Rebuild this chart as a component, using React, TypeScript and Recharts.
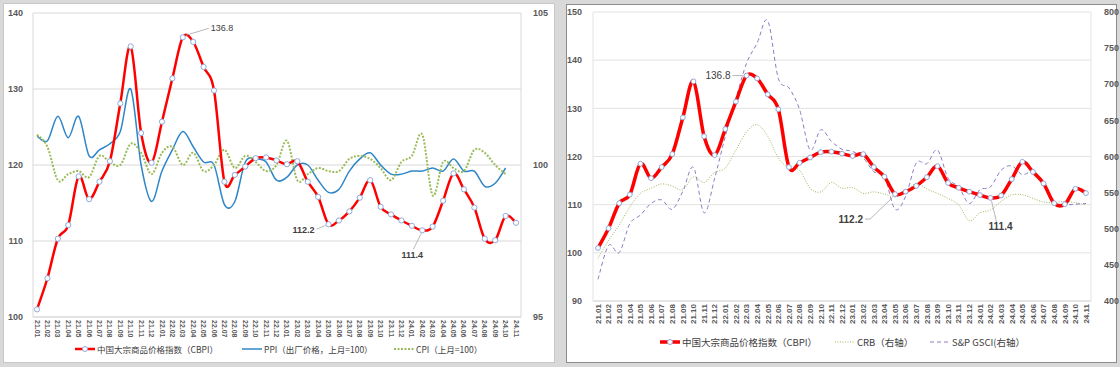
import React from 'react';
import { LineChart, Line, XAxis, YAxis, CartesianGrid, LabelList } from 'recharts';

const months = [
  '21.01','21.02','21.03','21.04','21.05','21.06','21.07','21.08','21.09','21.10','21.11','21.12',
  '22.01','22.02','22.03','22.04','22.05','22.06','22.07','22.08','22.09','22.10','22.11','22.12',
  '23.01','23.02','23.03','23.04','23.05','23.06','23.07','23.08','23.09','23.10','23.11','23.12',
  '24.01','24.02','24.03','24.04','24.05','24.06','24.07','24.08','24.09','24.10','24.11',
];

const cbpi = [
  101.0, 105.1, 110.3, 112.1, 118.5, 115.5, 117.8, 120.5, 128.1, 135.6, 124.2, 120.3,
  125.7, 131.4, 136.8, 136.2, 132.9, 129.8, 117.8, 118.7, 119.8, 120.9, 121.0, 120.6,
  120.1, 120.5, 117.8, 115.8, 112.2, 112.7, 113.9, 115.7, 118.0, 114.5, 113.5, 112.7,
  112.0, 111.4, 111.9, 115.3, 118.9, 116.8, 114.4, 110.3, 110.1, 113.3, 112.4,
];

const ppi = [
  100.95, 100.8, 101.6, 100.9, 101.6, 100.3, 100.5, 100.7, 101.1, 102.5, 100.0, 98.8,
  99.8, 100.5, 101.1, 100.6, 100.1, 100.0, 98.7, 98.8, 100.1, 100.2, 100.1, 99.5,
  99.6, 100.0, 100.0, 99.5, 99.1, 99.2, 99.8, 100.2, 100.4, 100.0, 99.7, 99.7,
  99.8, 99.8, 99.9, 99.8, 100.2, 99.8, 99.8, 99.3, 99.4, 99.9, null,
];

const cpi = [
  101.0, 100.6, 99.5, 99.7, 99.8, 99.6, 100.3, 100.1, 100.0, 100.7, 100.4, 99.7,
  100.4, 100.6, 100.0, 100.4, 99.8, 100.0, 100.5, 99.9, 100.3, 100.1, 99.8, 100.0,
  100.8, 99.5, 99.7, 99.9, 99.8, 99.8, 100.2, 100.3, 100.2, 99.9, 99.5, 100.1,
  100.3, 101.0, 99.0, 100.1, 99.9, 99.8, 100.5, 100.4, 100.0, 99.7, null,
];

const crb = [
  459, 484, 505, 530, 549, 556, 562, 559, 554, 572, 564, 578,
  584, 609, 634, 644, 628, 598, 584, 581, 556, 551, 564, 556,
  557, 549, 551, 548, 544, 551, 563, 555, 549, 542, 533, 511,
  522, 526, 538, 547, 547, 542, 537, 536, 538, 536, 533,
];

const gsci = [
  430, 477, 467, 507, 519, 535, 540, 527, 552, 585, 522, 570,
  628, 680, 729, 757, 788, 708, 695, 665, 609, 637, 621, 610,
  607, 598, 579, 572, 527, 545, 591, 590, 609, 570, 558, 535,
  554, 558, 581, 587, 575, 579, 561, 535, 533, 534, 535,
];

const leftTicksL = [100, 110, 120, 130, 140];
const leftTicksR = [95, 100, 105];
const rightTicksL = [90, 100, 110, 120, 130, 140, 150];
const rightTicksR = [400, 450, 500, 550, 600, 650, 700, 750, 800];

const data = months.map((m, i) => ({
  m,
  cbpi: cbpi[i],
  ppi: ppi[i],
  cpi: cpi[i],
  crb: crb[i],
  gsci: gsci[i],
}));

// Excel-like smoothing (Catmull-Rom bezier)
function excelCurve(context: any) {
  let pts: number[][] = [];
  return {
    areaStart() {},
    areaEnd() {},
    lineStart() {
      pts = [];
    },
    lineEnd() {
      const n = pts.length;
      if (!n) return;
      context.moveTo(pts[0][0], pts[0][1]);
      for (let i = 0; i < n - 1; i++) {
        const p0 = pts[Math.max(i - 1, 0)];
        const p1 = pts[i];
        const p2 = pts[i + 1];
        const p3 = pts[Math.min(i + 2, n - 1)];
        context.bezierCurveTo(
          p1[0] + (p2[0] - p0[0]) / 6,
          p1[1] + (p2[1] - p0[1]) / 6,
          p2[0] - (p3[0] - p1[0]) / 6,
          p2[1] - (p3[1] - p1[1]) / 6,
          p2[0],
          p2[1]
        );
      }
    },
    point(x: number, y: number) {
      pts.push([+x, +y]);
    },
  };
}

const SANS = '"Liberation Sans", Arial, sans-serif';
const CJK = '"Noto Sans CJK SC", "Liberation Sans", sans-serif';

const makeXTick = (fontSize: number, rot: number, gap: number) => (props: any) => {
  const { x, y, payload } = props;
  const ty = y + gap;
  return (
    <text
      x={x}
      y={ty}
      transform={`rotate(${rot}, ${x}, ${ty})`}
      textAnchor={rot < 0 ? 'end' : 'start'}
      dy="0.35em"
      fontSize={fontSize}
      fontWeight="bold"
      fontFamily={SANS}
      fill="#595959"
    >
      {payload.value}
    </text>
  );
};

type Ann = {
  text: string;
  bold: boolean;
  tx: number;
  ty: number;
  anchor: string;
  line: number[][];
};

const makeAnn = (anns: Record<number, Ann>, fontSize: number) => (props: any) => {
  const { x, y, index } = props;
  const a = anns[index];
  if (!a || x == null || y == null) return null;
  const pts = a.line.map((p) => `${x + p[0]},${y + p[1]}`).join(' ');
  return (
    <g>
      <polyline points={pts} fill="none" stroke="#a6a6a6" strokeWidth={0.8} />
      <text
        x={x + a.tx}
        y={y + a.ty}
        dy="0.35em"
        textAnchor={a.anchor as any}
        fontSize={fontSize}
        fontWeight={a.bold ? 'bold' : 'normal'}
        fontFamily={SANS}
        fill="#404040"
      >
        {a.text}
      </text>
    </g>
  );
};

const leftAnns: Record<number, Ann> = {
  14: { text: '136.8', bold: false, tx: 28, ty: -9, anchor: 'start', line: [[3, -2], [26, -9]] },
  28: { text: '112.2', bold: true, tx: -14, ty: 5.5, anchor: 'end', line: [[-12, 5], [-3, 1]] },
  37: { text: '111.4', bold: true, tx: -10, ty: 24, anchor: 'middle', line: [[-1, 3], [-9, 19]] },
};

const rightAnns: Record<number, Ann> = {
  14: { text: '136.8', bold: false, tx: -16, ty: 0, anchor: 'end', line: [[-14, 0], [-3, 0]] },
  28: { text: '112.2', bold: true, tx: -32, ty: 25, anchor: 'end', line: [[-30, 25], [-25, 25], [-3, 4]] },
  37: { text: '111.4', bold: true, tx: 10, ty: 29, anchor: 'middle', line: [[1, 3], [6, 24]] },
};

const axisTickStyle = { fontSize: 9, fontWeight: 'bold' as const, fill: '#595959', fontFamily: SANS };

function LegendItem({
  left,
  top,
  kind,
  label,
  fontSize,
}: {
  left: number;
  top: number;
  kind: 'cbpi' | 'cbpi2' | 'ppi' | 'cpi' | 'crb' | 'gsci';
  label: string;
  fontSize: number;
}) {
  let icon: React.ReactNode = null;
  if (kind === 'cbpi' || kind === 'cbpi2') {
    icon = (
      <>
        <line x1={0} y1={6} x2={20} y2={6} stroke="#ff0000" strokeWidth={kind === 'cbpi2' ? 3.5 : 2.5} />
        <circle cx={10} cy={6} r={2.5} fill="#fff" stroke="#8faadc" strokeWidth={1} />
      </>
    );
  } else if (kind === 'ppi') {
    icon = <line x1={0} y1={6} x2={20} y2={6} stroke="#2e86c8" strokeWidth={1.5} />;
  } else if (kind === 'cpi') {
    icon = <line x1={0} y1={6} x2={20} y2={6} stroke="#9bbb59" strokeWidth={2} strokeDasharray="2 1.5" />;
  } else if (kind === 'crb') {
    icon = <line x1={0} y1={6} x2={20} y2={6} stroke="#9bbb59" strokeWidth={1} strokeDasharray="1 1.5" />;
  } else {
    icon = <line x1={0} y1={6} x2={20} y2={6} stroke="#8e7cc3" strokeWidth={1} strokeDasharray="4 3" />;
  }
  return (
    <div
      style={{
        position: 'absolute',
        left,
        top: top - 7,
        height: 14,
        display: 'flex',
        alignItems: 'center',
        whiteSpace: 'nowrap',
      }}
    >
      <svg width={20} height={12} style={{ display: 'block' }}>
        {icon}
      </svg>
      <span style={{ marginLeft: 2, fontSize, fontFamily: CJK, color: '#404040', lineHeight: '14px' }}>
        {label}
      </span>
    </div>
  );
}

export default function App() {
  return (
    <div
      style={{
        position: 'absolute',
        left: 0,
        top: 0,
        width: 1120,
        height: 367,
        background: '#d9d9d9',
        overflow: 'hidden',
      }}
    >
      <div
        style={{
          position: 'absolute',
          left: 3,
          top: 3,
          width: 550,
          height: 358,
          background: '#fff',
          border: '1px solid #c8c8c8',
        }}
      />
      <div
        style={{
          position: 'absolute',
          left: 566,
          top: 4,
          width: 549,
          height: 357,
          background: '#fff',
          border: '1px solid #8c8c8c',
        }}
      />

      {/* Left chart */}
      <div style={{ position: 'absolute', left: 0, top: 0 }}>
        <LineChart width={558} height={367} data={data} margin={{ top: 13, right: 0, bottom: 0, left: 0 }}>
          <CartesianGrid vertical={false} stroke="#d9d9d9" yAxisId="l" />
          <XAxis
            dataKey="m"
            interval={0}
            height={50}
            padding={{ left: 4, right: 5 }}
            tickLine={false}
            axisLine={{ stroke: '#d9d9d9' }}
            tick={makeXTick(7, 90, -5)}
          />
          <YAxis
            yAxisId="l"
            domain={[100, 140]}
            ticks={leftTicksL}
            interval={0}
            width={33}
            tickLine={false}
            axisLine={{ stroke: '#d9d9d9' }}
            tick={axisTickStyle}
            tickMargin={4}
          />
          <YAxis
            yAxisId="r"
            orientation="right"
            domain={[95, 105]}
            ticks={leftTicksR}
            interval={0}
            width={37}
            tickLine={false}
            axisLine={{ stroke: '#d9d9d9' }}
            tick={{ ...axisTickStyle, textAnchor: 'start' }}
            tickMargin={6}
          />
          <Line
            yAxisId="r"
            dataKey="ppi"
            type={excelCurve as any}
            stroke="#2e86c8"
            strokeWidth={1.5}
            dot={false}
            isAnimationActive={false}
          />
          <Line
            yAxisId="r"
            dataKey="cpi"
            type={excelCurve as any}
            stroke="#9bbb59"
            strokeWidth={2}
            strokeDasharray="2 1.5"
            dot={false}
            isAnimationActive={false}
          />
          <Line
            yAxisId="l"
            dataKey="cbpi"
            type={excelCurve as any}
            stroke="#ff0000"
            strokeWidth={2.5}
            dot={{ r: 2.6, fill: '#fff', stroke: '#8faadc', strokeWidth: 1 }}
            isAnimationActive={false}
          >
            <LabelList dataKey="cbpi" content={makeAnn(leftAnns, 9)} />
          </Line>
        </LineChart>
      </div>

      {/* Right chart */}
      <div style={{ position: 'absolute', left: 560, top: 0 }}>
        <LineChart width={560} height={367} data={data} margin={{ top: 12, right: 0, bottom: 0, left: 0 }}>
          <CartesianGrid vertical={false} stroke="#e3e3e3" yAxisId="l" />
          <XAxis
            dataKey="m"
            interval={0}
            height={66}
            padding={{ left: 5, right: 5 }}
            tickLine={false}
            axisLine={{ stroke: '#d9d9d9' }}
            tick={makeXTick(8, -90, -5)}
          />
          <YAxis
            yAxisId="l"
            domain={[90, 150]}
            ticks={rightTicksL}
            interval={0}
            width={33}
            tickLine={false}
            axisLine={{ stroke: '#e3e3e3' }}
            tick={axisTickStyle}
            tickMargin={5}
          />
          <YAxis
            yAxisId="r"
            orientation="right"
            domain={[400, 800]}
            ticks={rightTicksR}
            interval={0}
            width={29}
            tickLine={false}
            axisLine={{ stroke: '#e3e3e3' }}
            tick={{ ...axisTickStyle, textAnchor: 'start' }}
            tickMargin={7}
          />
          <Line
            yAxisId="r"
            dataKey="crb"
            type={excelCurve as any}
            stroke="#9bbb59"
            strokeWidth={1}
            strokeDasharray="1 1.5"
            dot={false}
            isAnimationActive={false}
          />
          <Line
            yAxisId="r"
            dataKey="gsci"
            type={excelCurve as any}
            stroke="#8e7cc3"
            strokeWidth={1}
            strokeDasharray="4 3"
            dot={false}
            isAnimationActive={false}
          />
          <Line
            yAxisId="l"
            dataKey="cbpi"
            type={excelCurve as any}
            stroke="#ff0000"
            strokeWidth={3.5}
            dot={{ r: 2.4, fill: '#fff', stroke: '#8faadc', strokeWidth: 1 }}
            isAnimationActive={false}
          >
            <LabelList dataKey="cbpi" content={makeAnn(rightAnns, 10)} />
          </Line>
        </LineChart>
      </div>

      {/* Legends */}
      <LegendItem left={75} top={349} kind="cbpi" label="中国大宗商品价格指数（CBPI）" fontSize={8.5} />
      <LegendItem left={242} top={349} kind="ppi" label="PPI（出厂价格，上月=100）" fontSize={8.5} />
      <LegendItem left={394} top={349} kind="cpi" label="CPI（上月=100）" fontSize={8.5} />

      <LegendItem left={660} top={342} kind="cbpi2" label="中国大宗商品价格指数（CBPI）" fontSize={9.5} />
      <LegendItem left={835} top={342} kind="crb" label="CRB（右轴）" fontSize={9.5} />
      <LegendItem left={930} top={342} kind="gsci" label="S&P GSCI(右轴）" fontSize={9.5} />
    </div>
  );
}
